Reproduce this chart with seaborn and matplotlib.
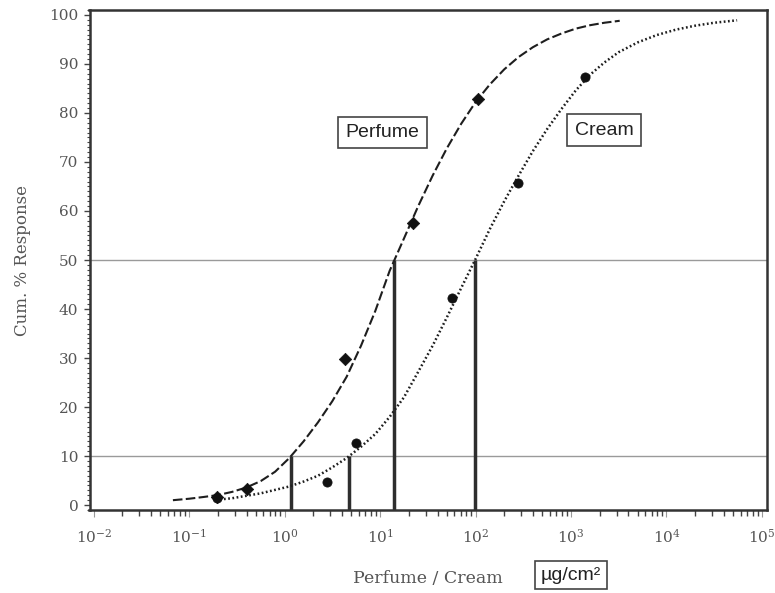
import matplotlib
matplotlib.use("Agg")
import matplotlib.pyplot as plt
import seaborn as sns
from matplotlib.ticker import LogLocator, MultipleLocator, NullFormatter, LogFormatterSciNotation

# fitted dose-response curves (dose in ug/cm2, cum. % response)
perfume_curve_dose = [0.0676, 0.1, 0.141, 0.2, 0.282, 0.398, 0.562, 0.794, 1.12, 1.58,
                      2.24, 3.16, 4.47, 6.31, 8.91, 12.6, 17.8, 25.1, 35.5, 50.1,
                      70.8, 100, 141, 200, 282, 398, 562, 794, 1122, 1585, 2239, 3236]
perfume_curve_resp = [1.0, 1.3, 1.65, 2.05, 2.7, 3.6, 4.9, 6.8, 9.6, 13.0,
                      16.9, 21.2, 26.2, 32.5, 39.6, 47.8, 54.4, 61.0, 67.2, 72.8,
                      77.8, 82.2, 85.8, 88.9, 91.4, 93.4, 95.0, 96.2, 97.2, 97.9, 98.4, 98.8]
cream_curve_dose = [0.209, 0.282, 0.398, 0.562, 0.794, 1.12, 1.58, 2.24, 3.16, 4.47,
                    6.31, 8.91, 12.6, 17.8, 25.1, 35.5, 50.1, 70.8, 100, 141,
                    200, 282, 398, 562, 794, 1122, 1585, 2239, 3162, 5012,
                    7943, 12590, 19950, 31620, 54950]
cream_curve_resp = [1.15, 1.4, 1.9, 2.4, 3.1, 3.8, 4.8, 6.0, 7.7, 9.6,
                    11.9, 14.5, 18.0, 22.0, 27.2, 32.5, 38.3, 44.3, 50.2, 56.3,
                    62.0, 67.2, 72.2, 76.7, 80.8, 84.6, 87.8, 90.3, 92.4, 94.4,
                    95.9, 97.0, 97.8, 98.4, 98.9]

# observed points
perfume_dose = [0.196, 0.404, 4.29, 22.1, 106]
perfume_resp = [1.6, 3.3, 29.8, 57.6, 82.9]
cream_dose = [0.196, 2.78, 5.6, 56.6, 279, 1403]
cream_resp = [1.4, 4.7, 12.6, 42.2, 65.7, 87.3]

# ED10 / ED50 markers (perfume ED10, perfume ED50, cream ED10, cream ED50)
ed_dose = [1.17, 14.0, 4.73, 99.0]
ed_level = [10, 50, 10, 50]
ref_levels = [10, 50]
x_major = [1e-2, 1e-1, 1e0, 1e1, 1e2, 1e3, 1e4, 1e5]

sns.set_theme(style="ticks")
plt.rcParams["font.family"] = ["DejaVu Serif"]
plt.rcParams["mathtext.fontset"] = "dejavuserif"

fig = plt.figure(figsize=(7.75, 5.93), dpi=100)
ax = fig.add_axes([89.5 / 775, 83 / 593, 677.5 / 775, 500 / 593])

ax.set_xscale("log")
ax.set_xlim(0.00904, 1.13e5)
ax.set_ylim(-1.0, 101.0)

for lvl in ref_levels:
    ax.axhline(lvl, color="#9a9a9a", lw=1.0, zorder=1)

ax.vlines(ed_dose, -1.0, ed_level, color="#2e2e2e", lw=2.5, zorder=2)

sns.lineplot(x=perfume_curve_dose, y=perfume_curve_resp, ax=ax, color="#1e1e1e",
             lw=1.5, sort=False, estimator=None)
ax.lines[-1].set_linestyle((0, (4.6, 1.6)))
sns.lineplot(x=cream_curve_dose, y=cream_curve_resp, ax=ax, color="#1e1e1e",
             lw=1.8, sort=False, estimator=None)
ax.lines[-1].set_linestyle((0, (0.7, 1.0)))

sns.scatterplot(x=perfume_dose, y=perfume_resp, ax=ax, marker="D", s=40,
                color="#111111", edgecolor="#111111", linewidth=0.5, zorder=4)
sns.scatterplot(x=cream_dose, y=cream_resp, ax=ax, marker="o", s=44,
                color="#111111", edgecolor="#111111", linewidth=0.5, zorder=4)

box = dict(boxstyle="square,pad=0.38", facecolor="white", edgecolor="#444444", lw=1.2)
ax.text(10.6, 76.0, "Perfume", family="Liberation Sans", fontsize=14, color="#222222",
        ha="center", va="center", bbox=box)
ax.text(2230, 76.5, "Cream", family="Liberation Sans", fontsize=14, color="#222222",
        ha="center", va="center", bbox=box)

# ticks
ax.yaxis.set_major_locator(MultipleLocator(10))
ax.yaxis.set_minor_locator(MultipleLocator(1))
ax.set_xticks(x_major)
ax.xaxis.set_major_formatter(LogFormatterSciNotation())
ax.xaxis.set_minor_locator(LogLocator(base=10, subs=range(2, 10), numticks=20))
ax.xaxis.set_minor_formatter(NullFormatter())
ax.tick_params(axis="y", which="major", direction="out", length=4, width=1.0,
               color="#444444", labelsize=11, labelcolor="#555555", pad=4)
ax.tick_params(axis="y", which="minor", direction="out", length=2.5, width=0.8, color="#444444")
ax.tick_params(axis="x", which="major", direction="out", length=5, width=0.8,
               color="#999999", labelsize=11, labelcolor="#555555", pad=8)
ax.tick_params(axis="x", which="minor", direction="out", length=4, width=1.0, color="#444444")

for side in ["left", "bottom", "top", "right"]:
    ax.spines[side].set_visible(True)
    ax.spines[side].set_color("#333333")
    ax.spines[side].set_linewidth(1.8)

ax.set_ylabel("Cum. % Response", fontsize=12, color="#555555", labelpad=13)
ax.set_xlabel("Perfume / Cream", fontsize=12.5, color="#555555", labelpad=17)

fig.text(571 / 775, 1 - 575 / 593, "µg/cm²", family="Liberation Sans", fontsize=14,
         color="#222222", ha="center", va="center",
         bbox=dict(boxstyle="square,pad=0.3", facecolor="white", edgecolor="#444444", lw=1.2))

fig.savefig("out.png", dpi=100)
plt.close(fig)
